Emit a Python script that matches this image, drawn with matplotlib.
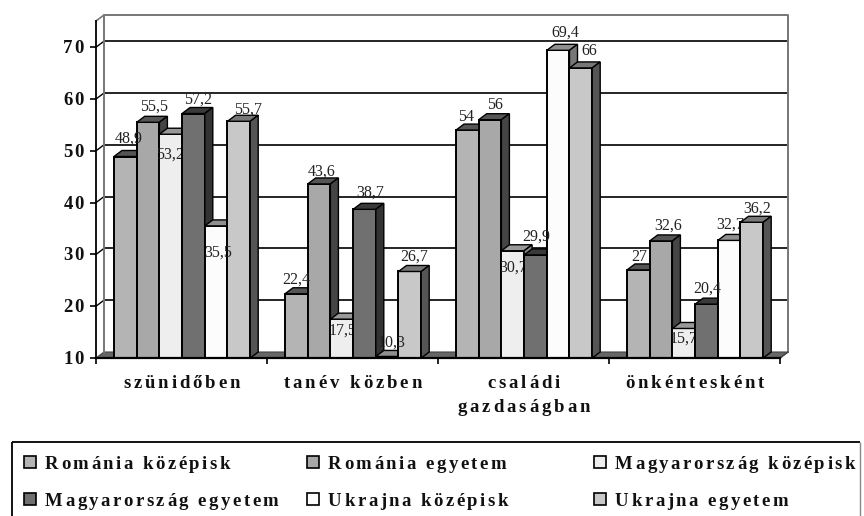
import matplotlib
matplotlib.use("Agg")
import matplotlib.pyplot as plt
from matplotlib.patches import Polygon, Rectangle
from matplotlib.text import Text

plt.rcParams['font.family'] = ['Liberation Serif', 'DejaVu Serif']

categories = ["szünidőben", "tanév közben", "családi\ngazdaságban", "önkéntesként"]
series_names = ["Románia középisk", "Románia egyetem", "Magyarország középisk",
                "Magyarország egyetem", "Ukrajna középisk", "Ukrajna egyetem"]
romania_kozep = [48.9, 22.4, 54, 27]
romania_egyetem = [55.5, 43.6, 56, 32.6]
magyar_kozep = [53.2, 17.5, 30.7, 15.7]
magyar_egyetem = [57.2, 38.7, 29.9, 20.4]
ukrajna_kozep = [35.5, 10.3, 69.4, 32.7]
ukrajna_egyetem = [55.7, 26.7, 66, 36.2]
y_ticks = [10, 20, 30, 40, 50, 60, 70]

series = [romania_kozep, romania_egyetem, magyar_kozep, magyar_egyetem, ukrajna_kozep, ukrajna_egyetem]
front_colors = ["#b4b4b4", "#a8a8a8", "#eeeeee", "#707070", "#fcfcfc", "#c8c8c8"]
top_colors = ["#555555", "#555555", "#999999", "#3a3a3a", "#909090", "#777777"]
side_colors = ["#4a4a4a", "#454545", "#888888", "#333333", "#777777", "#555555"]

# where each value label sits relative to its bar, in pixels (per series, per group)
label_dx = [[3, 0, -1, 1], [6, 3, 5, 7], [-1, 1, 0, 0], [5, 6, 1, 1], [2, 4, 7, 1], [9, 4, 8, 5]]
label_dy = [[18, 14, 13, 13], [16, 12, 15, 15], [-20, -11, -17, -10],
            [14, 17, 18, 15], [-27, 14, 18, 16], [12, 15, 17, 14]]
# these labels are partly hidden by the bar next to them
hidden_labels = [(2, 0), (2, 1), (2, 2), (2, 3), (4, 3)]


class SpacedText(Text):
    """Text with wide letter spacing, the picture has it stretched like that"""

    def __init__(self, *args, spacing=3.0, **kwargs):
        super().__init__(*args, **kwargs)
        self.spacing = spacing

    def draw(self, renderer):
        prop = self.get_fontproperties()
        s = self.get_text()
        widths = []
        for ch in s:
            if ch == " ":
                widths.append(prop.get_size_in_points() * 100 / 72 * 0.25)
            else:
                widths.append(renderer.get_text_width_height_descent(ch, prop, False)[0])
        total = sum(widths) + self.spacing * (len(s) - 1)
        x, y = self.get_transform().transform(self.get_position())
        if self.get_ha() == "center":
            x -= total / 2
        elif self.get_ha() == "right":
            x -= total
        for ch, w in zip(s, widths):
            t = Text(x, y, ch, fontproperties=prop, color=self.get_color(), ha="left", va="baseline")
            t.set_figure(self.get_figure())
            t.draw(renderer)
            x += w + self.spacing


fig = plt.figure(figsize=(8.64, 5.16), dpi=100)

# pixel canvas, for the things placed by hand
canvas = fig.add_axes([0, 0, 1, 1])
canvas.set_xlim(0, 864)
canvas.set_ylim(516, 0)
canvas.axis("off")

# front plane of the 3d box
ax = fig.add_axes([96 / 864, (516 - 358) / 516, (780 - 96) / 864, (358 - 21) / 516])
ax.set_xlim(0, 4)
ax.set_ylim(10, 75.06)
ax.patch.set_alpha(0)
for sp in ax.spines.values():
    sp.set_visible(False)

px_x = 4 / 684
px_y = 65.06 / 337
DX = 8 * px_x
DY = 6 * px_y
BAR_W = 22.7 * px_x
GAP = 18 * px_x

# back wall and floor
ax.add_patch(Polygon([(0, 10), (4, 10), (4 + DX, 10 + DY), (DX, 10 + DY)], closed=True,
                     facecolor="#666666", edgecolor="#444444", lw=0.8, clip_on=False, zorder=1))
for v in y_ticks[1:]:
    ax.plot([DX, 4 + DX], [v + DY, v + DY], color="black", lw=1.2, clip_on=False, zorder=2)
    ax.plot([0, DX], [v, v + DY], color="black", lw=1.0, clip_on=False, zorder=2)
ax.plot([DX, DX, 4 + DX, 4 + DX], [10 + DY, 75.06 + DY, 75.06 + DY, 10 + DY],
        color="#777777", lw=1.4, clip_on=False, zorder=2)
ax.plot([0, DX], [75.06, 75.06 + DY], color="#777777", lw=1.2, clip_on=False, zorder=2)
ax.plot([4, 4 + DX], [10, 10 + DY], color="#444444", lw=1.0, clip_on=False, zorder=2)

# bars, left to right so that each one covers the side of the one before
for g in range(len(categories)):
    for s, values in enumerate(series):
        v = values[g]
        x0 = g + GAP + s * BAR_W
        x1 = x0 + BAR_W
        z = 10 + g * 10 + s
        ax.bar(x0, v - 10, BAR_W, bottom=10, align="edge", color=front_colors[s],
               edgecolor="black", lw=1.4, clip_on=False, zorder=z)
        ax.add_patch(Polygon([(x0, v), (x1, v), (x1 + DX, v + DY), (x0 + DX, v + DY)], closed=True,
                             facecolor=top_colors[s], edgecolor="black", lw=1.0, clip_on=False, zorder=z))
        ax.add_patch(Polygon([(x1, 10), (x1 + DX, 10 + DY), (x1 + DX, v + DY), (x1, v)], closed=True,
                             facecolor=side_colors[s], edgecolor="black", lw=1.0, clip_on=False, zorder=z))
        label_z = z + 0.5 if (s, g) in hidden_labels else 100
        ax.annotate(f"{v:g}".replace(".", ","), xy=(x0 + BAR_W / 2, v),
                    xytext=(label_dx[s][g], label_dy[s][g]), textcoords="offset pixels",
                    ha="center", va="center", fontsize=11.5, color="#222222",
                    annotation_clip=False, zorder=label_z)

# axis lines and ticks
ax.plot([0, 0], [10, 75.06], color="black", lw=1.3, clip_on=False, zorder=3)
ax.plot([0, 4], [10, 10], color="black", lw=1.6, clip_on=False, zorder=90)
ax.set_xticks(range(len(categories) + 1))
ax.set_yticks(y_ticks)
ax.tick_params(axis="both", length=4.5, width=1.2, color="black", labelbottom=False, labelleft=False)

for v in y_ticks:
    canvas.add_artist(SpacedText(84, 358 - (v - 10) * 51.8 / 10 + 6, str(v), spacing=2, ha="right",
                                 fontsize=13.5, fontweight="bold", color="#111111",
                                 transform=canvas.transData))

for g, name in enumerate(categories):
    for i, line in enumerate(name.split("\n")):
        canvas.add_artist(SpacedText(181.5 + g * 171, 388 + i * 24, line, spacing=2.9, ha="center",
                                     fontsize=13.5, fontweight="bold", color="#111111",
                                     transform=canvas.transData))

# legend box, the bottom edge is cut off in the picture
canvas.plot([12, 12], [516, 442], color="black", lw=1.3, solid_capstyle="butt")
canvas.plot([12, 860], [442, 442], color="black", lw=1.3, solid_capstyle="butt")
canvas.plot([860, 860], [442, 516], color="#888888", lw=1.0, solid_capstyle="butt")
swatch_x = [24, 307, 594]
legend_y = [462, 499]
for s, name in enumerate(series_names):
    col, row = s % 3, s // 3
    canvas.add_patch(Rectangle((swatch_x[col], legend_y[row] - 6), 12, 12, facecolor=front_colors[s],
                               edgecolor="black", lw=1.2))
    canvas.add_artist(SpacedText(swatch_x[col] + 21, legend_y[row] + 7, name, spacing=2.5, ha="left",
                                 fontsize=13.5, fontweight="bold", color="#111111",
                                 transform=canvas.transData))

fig.savefig("out.png", dpi=100)
